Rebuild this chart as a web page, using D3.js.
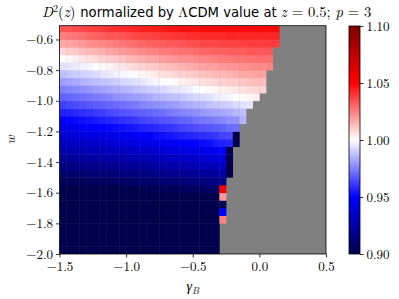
<!DOCTYPE html>
<html>
<head>
<meta charset="utf-8">
<script src="https://cdn.jsdelivr.net/npm/d3@7"></script>
<style>
  body { margin: 0; background: #fff; }
  text { fill: #000; }
</style>
</head>
<body>
<svg id="chart" width="399" height="299"></svg>
<script>
// Grid of the parameter scan: gamma_B along x, w along y (cell edges)
const gammaStart = -1.5, gammaStep = 0.05;
const wStart = -2.0, wStep = 0.05;

// D^2(z=0.5) / LCDM, one row per w cell (bottom to top), one value per gamma cell.
// Rows stop where the scan has no valid value (grey region).
const ratioRows = [
  [0.9,0.9,0.9,0.9,0.9,0.9,0.9,0.9,0.9,0.9,0.9,0.9,0.9,0.9,0.9,0.9,0.9,0.9,0.9,0.9,0.9,0.9,0.9,0.9],
  [0.9,0.9,0.9,0.9,0.9,0.9,0.9,0.9,0.9,0.9,0.9,0.9,0.9,0.9,0.9,0.9,0.9,0.9,0.9,0.9,0.9,0.9,0.9,0.9],
  [0.9,0.9,0.9,0.9,0.9,0.9,0.9,0.9,0.9,0.9,0.9,0.9,0.9,0.9,0.9,0.9,0.9,0.9,0.9,0.9,0.9,0.9,0.9,0.9],
  [0.9,0.9,0.9,0.9,0.9,0.9,0.9,0.9,0.9,0.9,0.9,0.9,0.9,0.9,0.9,0.9,0.9,0.9,0.9,0.9,0.9,0.9,0.9,0.9],
  [0.9,0.9,0.9,0.9,0.9,0.9,0.9,0.9,0.9,0.9,0.9,0.9,0.9,0.9,0.9,0.9,0.9,0.9,0.9,0.9,0.9,0.9,0.9,0.9,1.025],
  [0.9,0.9,0.9,0.9,0.9,0.9,0.9,0.9,0.9,0.9,0.9,0.9,0.9,0.9,0.9,0.9,0.9,0.9,0.9,0.9,0.9,0.9,0.9,0.9,0.95],
  [0.9,0.9,0.9,0.9,0.9,0.9,0.9,0.9,0.9,0.9,0.9,0.9,0.9,0.9,0.9,0.9,0.9,0.9,0.9,0.9,0.9,0.9,0.9,0.9,0.9],
  [0.9,0.9,0.9,0.9,0.9,0.9,0.9,0.9,0.9,0.9,0.9,0.9,0.9,0.9,0.9,0.9,0.9,0.9,0.9,0.9,0.9,0.9,0.9,0.9,1.02],
  [0.9,0.9,0.9,0.9,0.9,0.9,0.9,0.9,0.9,0.901,0.901,0.901,0.902,0.902,0.903,0.903,0.904,0.904,0.905,0.905,0.906,0.906,0.907,0.907,1.052],
  [0.903,0.904,0.904,0.904,0.905,0.905,0.906,0.906,0.907,0.907,0.908,0.908,0.909,0.909,0.910,0.910,0.911,0.911,0.912,0.913,0.913,0.914,0.915,0.915,0.916],
  [0.909,0.909,0.910,0.910,0.911,0.911,0.912,0.912,0.913,0.914,0.914,0.915,0.915,0.916,0.917,0.917,0.918,0.919,0.919,0.920,0.921,0.922,0.922,0.923,0.924,0.900],
  [0.915,0.915,0.916,0.916,0.917,0.918,0.918,0.919,0.919,0.920,0.921,0.921,0.922,0.923,0.924,0.924,0.925,0.926,0.927,0.928,0.929,0.929,0.930,0.931,0.932,0.900],
  [0.921,0.921,0.922,0.923,0.923,0.924,0.925,0.925,0.926,0.927,0.927,0.928,0.929,0.930,0.931,0.931,0.932,0.933,0.934,0.935,0.936,0.937,0.938,0.939,0.940,0.900],
  [0.927,0.927,0.928,0.929,0.929,0.930,0.931,0.932,0.932,0.933,0.934,0.935,0.936,0.937,0.938,0.939,0.940,0.941,0.942,0.943,0.944,0.945,0.946,0.947,0.949,0.900],
  [0.932,0.933,0.934,0.935,0.935,0.936,0.937,0.938,0.939,0.940,0.941,0.942,0.943,0.944,0.945,0.946,0.947,0.948,0.949,0.950,0.951,0.952,0.953,0.955,0.956,0.957,0.900],
  [0.938,0.939,0.940,0.941,0.942,0.942,0.943,0.944,0.945,0.946,0.947,0.948,0.949,0.950,0.952,0.953,0.954,0.955,0.956,0.957,0.958,0.959,0.960,0.961,0.963,0.964,0.900],
  [0.944,0.945,0.946,0.947,0.948,0.949,0.950,0.951,0.952,0.953,0.954,0.955,0.956,0.957,0.958,0.959,0.960,0.961,0.963,0.964,0.965,0.966,0.967,0.968,0.969,0.971,0.972],
  [0.950,0.951,0.952,0.953,0.954,0.955,0.956,0.957,0.958,0.959,0.960,0.961,0.963,0.964,0.965,0.966,0.967,0.968,0.969,0.970,0.972,0.973,0.974,0.975,0.976,0.978,0.979,0.985],
  [0.956,0.957,0.958,0.959,0.960,0.961,0.962,0.964,0.965,0.966,0.967,0.968,0.969,0.970,0.971,0.972,0.974,0.975,0.976,0.977,0.978,0.980,0.981,0.982,0.983,0.984,0.986,0.987],
  [0.962,0.964,0.965,0.966,0.967,0.968,0.969,0.970,0.971,0.972,0.973,0.974,0.976,0.977,0.978,0.979,0.980,0.981,0.983,0.984,0.985,0.986,0.988,0.989,0.990,0.991,0.993,0.994,0.995],
  [0.969,0.970,0.971,0.972,0.973,0.974,0.975,0.976,0.978,0.979,0.980,0.981,0.982,0.983,0.985,0.986,0.987,0.988,0.989,0.991,0.992,0.993,0.994,0.996,0.997,0.998,1.000,1.001,1.002,1.003],
  [0.975,0.976,0.977,0.978,0.979,0.981,0.982,0.983,0.984,0.985,0.986,0.988,0.989,0.990,0.991,0.992,0.994,0.995,0.996,0.997,0.999,1.000,1.001,1.002,1.003,1.004,1.005,1.006,1.007,1.008,1.008],
  [0.981,0.982,0.983,0.985,0.986,0.987,0.988,0.989,0.990,0.992,0.993,0.994,0.995,0.997,0.998,0.999,1.000,1.001,1.003,1.004,1.005,1.006,1.007,1.008,1.009,1.010,1.010,1.011,1.012,1.013,1.013],
  [0.987,0.989,0.990,0.991,0.992,0.993,0.995,0.996,0.997,0.998,0.999,1.001,1.002,1.003,1.004,1.006,1.007,1.008,1.009,1.010,1.011,1.012,1.013,1.014,1.014,1.015,1.016,1.017,1.017,1.018,1.018],
  [0.994,0.995,0.996,0.997,0.998,1.000,1.001,1.002,1.004,1.005,1.006,1.008,1.009,1.010,1.011,1.012,1.013,1.014,1.015,1.016,1.017,1.018,1.019,1.019,1.020,1.021,1.021,1.022,1.022,1.023,1.023,1.024],
  [1.000,1.002,1.003,1.005,1.006,1.007,1.009,1.010,1.011,1.012,1.014,1.015,1.016,1.017,1.018,1.019,1.020,1.021,1.022,1.022,1.023,1.024,1.024,1.025,1.026,1.026,1.027,1.027,1.028,1.028,1.028,1.028],
  [1.008,1.010,1.011,1.013,1.014,1.015,1.016,1.018,1.019,1.020,1.021,1.022,1.023,1.024,1.025,1.026,1.026,1.027,1.028,1.028,1.029,1.030,1.030,1.031,1.031,1.032,1.032,1.032,1.033,1.033,1.033,1.033],
  [1.017,1.018,1.019,1.020,1.022,1.023,1.024,1.025,1.026,1.027,1.028,1.029,1.030,1.031,1.031,1.032,1.033,1.033,1.034,1.035,1.035,1.036,1.036,1.036,1.037,1.037,1.037,1.038,1.038,1.038,1.038,1.038,1.038],
  [1.025,1.026,1.027,1.028,1.030,1.031,1.032,1.033,1.033,1.034,1.035,1.036,1.037,1.037,1.038,1.039,1.039,1.040,1.040,1.041,1.041,1.042,1.042,1.042,1.042,1.043,1.043,1.043,1.043,1.043,1.043,1.043,1.043],
  [1.033,1.034,1.035,1.036,1.037,1.038,1.039,1.040,1.041,1.042,1.042,1.043,1.044,1.044,1.045,1.045,1.046,1.046,1.047,1.047,1.047,1.048,1.048,1.048,1.048,1.048,1.048,1.048,1.048,1.048,1.048,1.048,1.048]
];

// Axis ticks
const xTicks = [-1.5, -1.0, -0.5, 0.0, 0.5];
const yTicks = [-2.0, -1.8, -1.6, -1.4, -1.2, -1.0, -0.8, -0.6];
const cbTicks = [0.90, 0.95, 1.00, 1.05, 1.10];

const svg = d3.select("#chart");
const mathFont = '"Latin Modern Roman"';
const textFont = '"DejaVu Sans"';

// Plot area
const x = d3.scaleLinear().domain([-1.5, 0.5]).range([59.5, 326]);
const y = d3.scaleLinear().domain([-2.0, -0.51]).range([254, 25.7]);

// matplotlib "seismic" colormap, clipped to 0.90 .. 1.10
const color = d3.scaleLinear()
    .domain([0.90, 0.95, 1.00, 1.05, 1.10])
    .range(["#00004c", "#0000ff", "#ffffff", "#ff0000", "#7f0000"])
    .clamp(true);

svg.append("clipPath").attr("id", "plotClip")
  .append("rect")
    .attr("x", x(-1.5)).attr("y", y(-0.51))
    .attr("width", x(0.5) - x(-1.5)).attr("height", y(-2.0) - y(-0.51));

// grey = no valid value
const plot = svg.append("g").attr("clip-path", "url(#plotClip)");
plot.append("rect")
    .attr("x", x(-1.5)).attr("y", y(-0.51))
    .attr("width", x(0.5) - x(-1.5)).attr("height", y(-2.0) - y(-0.51))
    .attr("fill", "#808080");

const cells = [];
ratioRows.forEach((row, i) => {
  row.forEach((v, j) => {
    cells.push({ g0: gammaStart + j * gammaStep, w0: wStart + i * wStep, v: v });
  });
});

plot.selectAll("rect.cell")
  .data(cells)
  .enter()
  .append("rect")
    .attr("class", "cell")
    .attr("x", d => x(d.g0))
    .attr("y", d => y(d.w0 + wStep))
    .attr("width", d => x(d.g0 + gammaStep) - x(d.g0) + 0.3)
    .attr("height", d => y(d.w0) - y(d.w0 + wStep) + 0.3)
    .attr("fill", d => color(d.v));

// axes
const fmt = d => d3.format(".1f")(d).replace("-", "\u2212");

const xAxis = svg.append("g")
    .attr("transform", `translate(0,${y(-2.0)})`)
    .call(d3.axisBottom(x).tickValues(xTicks).tickSize(3.5).tickPadding(4).tickFormat(fmt));
const yAxis = svg.append("g")
    .attr("transform", `translate(${x(-1.5)},0)`)
    .call(d3.axisLeft(y).tickValues(yTicks).tickSize(3.5).tickPadding(3).tickFormat(fmt));

[xAxis, yAxis].forEach(a => {
  a.select(".domain").remove();
  a.selectAll("line").attr("stroke", "#000").attr("stroke-width", 0.8);
  a.selectAll("text").style("font-family", mathFont).style("font-size", "13px").attr("fill", "#000");
});

svg.append("rect")
    .attr("x", x(-1.5)).attr("y", y(-0.51))
    .attr("width", x(0.5) - x(-1.5)).attr("height", y(-2.0) - y(-0.51))
    .attr("fill", "none").attr("stroke", "#000").attr("stroke-width", 0.8);

// axis labels
svg.append("text")
    .attr("transform", `translate(15,${(y(-2.0) + y(-0.51)) / 2}) rotate(-90)`)
    .attr("text-anchor", "middle")
    .style("font-family", mathFont).style("font-style", "italic").style("font-size", "14px")
    .text("w");

const xl = svg.append("text")
    .attr("x", (x(-1.5) + x(0.5)) / 2).attr("y", 291)
    .attr("text-anchor", "middle")
    .style("font-family", mathFont).style("font-style", "italic").style("font-size", "14px");
xl.append("tspan").text("\u03b3");
xl.append("tspan").attr("dy", 3).style("font-size", "10px").text("B");

// title
const titleParts = [
  { t: "D", f: mathFont, it: true },
  { t: "2", f: mathFont, sup: true },
  { t: "(", f: mathFont },
  { t: "z", f: mathFont, it: true },
  { t: ") ", f: mathFont },
  { t: "normalized by ", f: textFont },
  { t: "\u039b", f: mathFont },
  { t: "CDM value at ", f: textFont },
  { t: "z", f: mathFont, it: true },
  { t: " = 0.5; ", f: mathFont },
  { t: "p", f: mathFont, it: true },
  { t: " = 3", f: mathFont }
];
const title = svg.append("text")
    .attr("x", 42).attr("y", 16.5);
let raised = false;
titleParts.forEach(p => {
  const ts = title.append("tspan")
      .style("font-family", p.f)
      .style("font-style", p.it ? "italic" : "normal")
      .style("font-size", p.f === textFont ? "13.2px" : (p.sup ? "10px" : "14.6px"))
      .text(p.t);
  if (p.sup) { ts.attr("dy", -5); raised = true; }
  else if (raised) { ts.attr("dy", 5); raised = false; }
});

// colorbar
const cb = d3.scaleLinear().domain([0.90, 1.10]).range([254, 26]);
const cbX = 349, cbW = 11;
const grad = svg.append("defs").append("linearGradient")
    .attr("id", "cbGrad").attr("x1", 0).attr("y1", 1).attr("x2", 0).attr("y2", 0);
color.domain().forEach(v => {
  grad.append("stop")
      .attr("offset", (v - 0.90) / 0.20)
      .attr("stop-color", color(v));
});
svg.append("rect")
    .attr("x", cbX).attr("y", cb(1.10))
    .attr("width", cbW).attr("height", cb(0.90) - cb(1.10))
    .attr("fill", "url(#cbGrad)")
    .attr("stroke", "#000").attr("stroke-width", 0.8);

const cbAxis = svg.append("g")
    .attr("transform", `translate(${cbX + cbW},0)`)
    .call(d3.axisRight(cb).tickValues(cbTicks).tickSize(3.5).tickPadding(3).tickFormat(d3.format(".2f")));
cbAxis.select(".domain").remove();
cbAxis.selectAll("line").attr("stroke", "#000").attr("stroke-width", 0.8);
cbAxis.selectAll("text").style("font-family", mathFont).style("font-size", "13px").attr("fill", "#000");
</script>
</body>
</html>
